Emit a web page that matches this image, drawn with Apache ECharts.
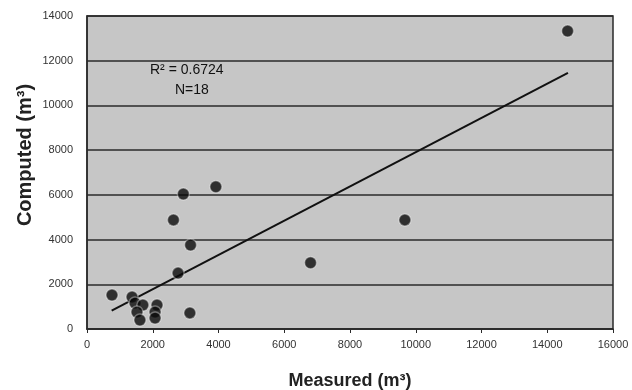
<!DOCTYPE html>
<html>
<head>
<meta charset="utf-8">
<script src="https://cdn.jsdelivr.net/npm/echarts@6/dist/echarts.min.js"></script>
<style>
  html, body { margin: 0; padding: 0; background: #fff; }
  #chart { width: 632px; height: 390px; }
</style>
</head>
<body>
<div id="chart"></div>
<script>
// measured vs computed (m3)
const measured = [760, 1370, 1460, 1700, 1520, 1610, 2130, 2070, 2070, 3130, 2770, 2630, 2930, 3920, 3150, 9670, 6800, 14620];
const computed = [1520, 1430, 1160, 1070, 760, 400, 1070, 760, 490, 720, 2500, 4880, 6040, 6360, 3760, 4880, 2960, 13330];

// regression line ends
const trendX = [750, 14630];
const trendY = [820, 11460];

const xTicks = [0, 2000, 4000, 6000, 8000, 10000, 12000, 14000, 16000];
const yTicks = [0, 2000, 4000, 6000, 8000, 10000, 12000, 14000];

const points = measured.map((m, i) => [m, computed[i]]);
const trend = trendX.map((x, i) => [x, trendY[i]]);

const font = 'Liberation Sans, Arial, sans-serif';
const chart = echarts.init(document.getElementById('chart'));

const option = {
  animation: false,
  backgroundColor: '#fff',
  textStyle: { fontFamily: font },
  grid: {
    left: 87, right: 19, top: 16, bottom: 61,
    outerBoundsMode: 'none',
    containLabel: false,
    show: true,
    backgroundColor: '#c6c6c6',
    borderColor: '#2a2a2a',
    borderWidth: 1.5,
  },
  xAxis: {
    type: 'value',
    min: xTicks[0],
    max: xTicks[xTicks.length - 1],
    interval: 2000,
    name: 'Measured (m³)',
    nameLocation: 'middle',
    nameGap: 43,
    nameTextStyle: { fontSize: 18, fontWeight: 'bold', color: '#222' },
    axisLine: { show: true, lineStyle: { color: '#2a2a2a', width: 1.5 } },
    axisTick: { show: true, length: 4, lineStyle: { color: '#2a2a2a' } },
    axisLabel: { fontSize: 11, color: '#333', margin: 10, formatter: v => String(v) },
    splitLine: { show: false },
  },
  yAxis: {
    type: 'value',
    min: yTicks[0],
    max: yTicks[yTicks.length - 1],
    interval: 2000,
    axisLine: { show: true, lineStyle: { color: '#2a2a2a', width: 1.5 } },
    axisTick: { show: false },
    axisLabel: { fontSize: 11, color: '#333', margin: 14, formatter: v => String(v) },
    splitLine: { show: true, lineStyle: { color: '#2a2a2a', width: 1.5 } },
  },
  graphic: [
    {
      type: 'text', x: 25, y: 155, rotation: Math.PI / 2,
      style: { text: 'Computed (m³)', fontSize: 20, fontWeight: 'bold', fill: '#222', fontFamily: font,
               align: 'center', verticalAlign: 'middle' },
    },
    {
      type: 'text', left: 150, top: 63,
      style: { text: 'R² = 0.6724', fontSize: 14, fill: '#111', fontFamily: font },
    },
    {
      type: 'text', left: 175, top: 83,
      style: { text: 'N=18', fontSize: 14, fill: '#111', fontFamily: font },
    },
  ],
  series: [
    {
      type: 'line',
      data: trend,
      symbol: 'none',
      lineStyle: { color: '#111', width: 2 },
      z: 2,
    },
    {
      type: 'scatter',
      data: points,
      symbol: 'circle',
      symbolSize: 12,
      itemStyle: { color: '#0a0a0a', borderColor: 'rgba(255,255,255,0.45)', borderWidth: 1.5 },
      z: 3,
    },
  ],
};

chart.setOption(option);
</script>
</body>
</html>
